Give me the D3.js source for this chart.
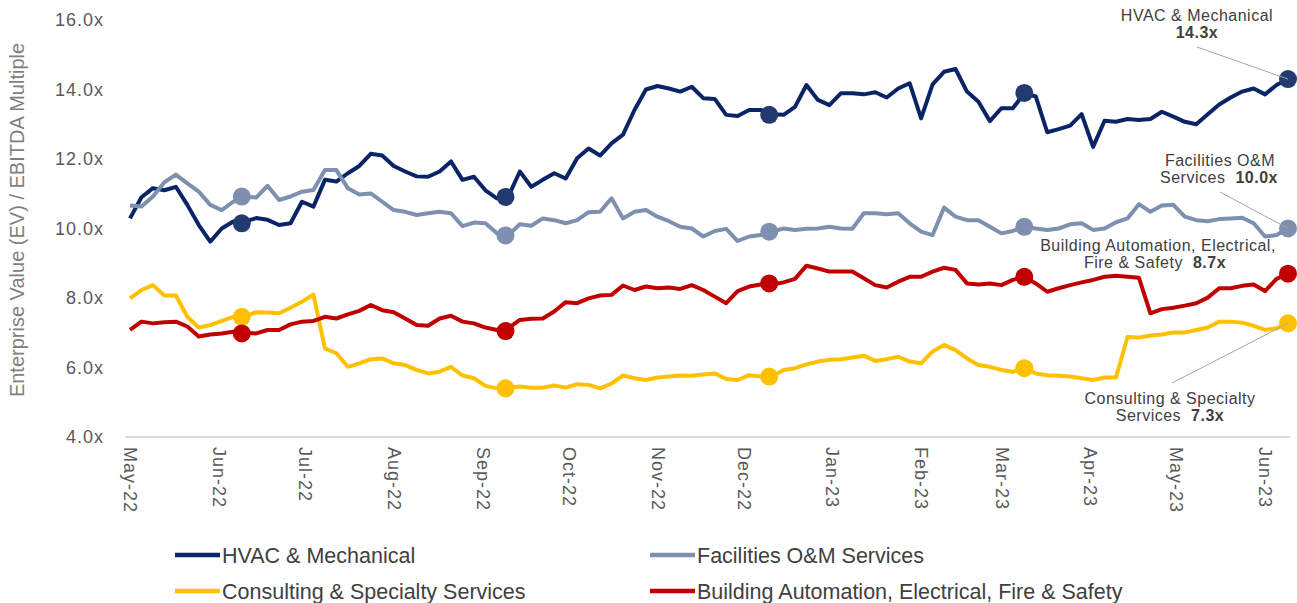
<!DOCTYPE html>
<html>
<head>
<meta charset="utf-8">
<script src="https://cdn.jsdelivr.net/npm/d3@7"></script>
<style>
  body { margin: 0; background: #fff; }
  svg { display: block; font-family: "Liberation Sans", Arial, sans-serif; }
</style>
</head>
<body>
<div id="chart"></div>
<script>
// series sampled every 4 days starting 1 May 2022 (last point 9 Jun 2023)
var START_DATE = new Date(2022, 4, 1);
var STEP_DAYS = 4;

var hvac = [10.29, 10.9, 11.16, 11.1, 11.2, 10.68, 10.1, 9.62, 10.0, 10.2,
  10.2, 10.3, 10.25, 10.1, 10.15, 10.77, 10.63, 11.4, 11.35, 11.59,
  11.8, 12.15, 12.1, 11.8, 11.64, 11.5, 11.49, 11.64, 11.93, 11.4,
  11.49, 11.1, 10.87, 10.92, 11.64, 11.2, 11.4, 11.59, 11.44, 12.02,
  12.3, 12.1, 12.45, 12.7, 13.41, 14.0, 14.1, 14.03, 13.94, 14.08,
  13.75, 13.73, 13.27, 13.24, 13.41, 13.41, 13.29, 13.27, 13.5, 14.13,
  13.7, 13.55, 13.89, 13.89, 13.86, 13.92, 13.77, 14.03, 14.18, 13.17,
  14.15, 14.51, 14.59, 13.94, 13.65, 13.09, 13.46, 13.46, 13.89, 13.8,
  12.77, 12.86, 12.96, 13.29, 12.35, 13.1, 13.07, 13.15, 13.12, 13.15,
  13.36, 13.22, 13.07, 13.0, 13.29, 13.57, 13.77, 13.94, 14.03, 13.86,
  14.13, 14.3];

var facilities = [10.66, 10.63, 10.92, 11.33, 11.55, 11.3, 11.06, 10.68, 10.53, 10.77,
  10.92, 10.89, 11.23, 10.82, 10.92, 11.06, 11.11, 11.68, 11.68, 11.16,
  10.98, 11.01, 10.77, 10.53, 10.48, 10.39, 10.44, 10.48, 10.44, 10.07,
  10.17, 10.15, 9.86, 9.81, 10.12, 10.08, 10.29, 10.24, 10.15, 10.24,
  10.47, 10.48, 10.87, 10.29, 10.48, 10.53, 10.34, 10.21, 10.05, 10.0,
  9.77, 9.93, 9.99, 9.64, 9.77, 9.81, 9.91, 10.0, 9.96, 9.99,
  10.0, 10.05, 10.0, 9.99, 10.44, 10.44, 10.41, 10.44, 10.15, 9.91,
  9.81, 10.6, 10.34, 10.24, 10.24, 10.05, 9.86, 9.93, 10.05, 10.0,
  9.96, 10.0, 10.12, 10.15, 9.96, 10.0, 10.18, 10.29, 10.7, 10.48,
  10.66, 10.68, 10.34, 10.24, 10.21, 10.27, 10.29, 10.31, 10.15, 9.77,
  9.81, 10.0];

var consulting = [7.99, 8.23, 8.37, 8.07, 8.07, 7.46, 7.15, 7.22, 7.34, 7.46,
  7.48, 7.59, 7.58, 7.56, 7.72, 7.89, 8.1, 6.55, 6.41, 6.02,
  6.12, 6.24, 6.26, 6.12, 6.07, 5.93, 5.83, 5.88, 6.02, 5.77,
  5.69, 5.47, 5.4, 5.42, 5.45, 5.42, 5.42, 5.48, 5.42, 5.52,
  5.5, 5.4, 5.54, 5.77, 5.69, 5.64, 5.71, 5.74, 5.77, 5.76,
  5.8, 5.83, 5.67, 5.64, 5.78, 5.74, 5.74, 5.93, 5.98, 6.09,
  6.17, 6.22, 6.24, 6.29, 6.34, 6.19, 6.24, 6.31, 6.17, 6.12,
  6.46, 6.65, 6.5, 6.26, 6.07, 6.02, 5.93, 5.88, 5.98, 5.83,
  5.78, 5.76, 5.74, 5.69, 5.64, 5.71, 5.71, 6.88, 6.86, 6.92,
  6.95, 7.01, 7.01, 7.08, 7.15, 7.32, 7.32, 7.29, 7.2, 7.08,
  7.13, 7.27];

var building = [7.08, 7.32, 7.27, 7.3, 7.32, 7.18, 6.89, 6.95, 6.98, 7.03,
  7.01, 6.98, 7.08, 7.08, 7.24, 7.32, 7.34, 7.46, 7.41, 7.53,
  7.63, 7.8, 7.65, 7.59, 7.41, 7.22, 7.2, 7.41, 7.49, 7.32,
  7.27, 7.15, 7.08, 7.13, 7.37, 7.4, 7.41, 7.61, 7.88, 7.85,
  7.99, 8.07, 8.09, 8.36, 8.23, 8.33, 8.28, 8.3, 8.26, 8.37,
  8.23, 8.04, 7.85, 8.2, 8.33, 8.39, 8.39, 8.45, 8.55, 8.93,
  8.85, 8.76, 8.76, 8.76, 8.57, 8.37, 8.3, 8.47, 8.61, 8.61,
  8.76, 8.87, 8.81, 8.42, 8.39, 8.42, 8.37, 8.52, 8.61, 8.42,
  8.18, 8.28, 8.37, 8.45, 8.52, 8.61, 8.64, 8.61, 8.58, 7.56,
  7.68, 7.72, 7.78, 7.85, 8.01, 8.28, 8.28, 8.35, 8.39, 8.2,
  8.55, 8.7];

// quarterly snapshot points (dots)
var markerDates = ["2022-06-09", "2022-09-09", "2022-12-10", "2023-03-09", "2023-06-09"];
var hvacMarks = [10.15, 10.91, 13.27, 13.9, 14.3];
var facilitiesMarks = [10.92, 9.8, 9.91, 10.05, 10.0];
var consultingMarks = [7.46, 5.4, 5.74, 5.98, 7.27];
var buildingMarks = [6.98, 7.05, 8.42, 8.61, 8.7];

var seriesNames = ["HVAC & Mechanical", "Facilities O&M Services",
  "Consulting & Specialty Services", "Building Automation, Electrical, Fire & Safety"];
var yTicks = [4, 6, 8, 10, 12, 14, 16];

//COLOURS
var COL_HVAC = "#0b2465";
var COL_HVAC_DOT = "#213b70";
var COL_FAC = "#7f8fb0";
var COL_CONS = "#ffc000";
var COL_BLDG = "#c00000";
var TEXT_COL = "#595959";

var W = 1297, H = 603;

var svg = d3.select("#chart").append("svg")
  .attr("width", W).attr("height", H);
svg.append("rect").attr("width", W).attr("height", H).attr("fill", "#fff");

var endDate = d3.timeDay.offset(START_DATE, (hvac.length - 1) * STEP_DAYS);
var x = d3.scaleTime().domain([START_DATE, endDate]).range([130, 1288]);
var y = d3.scaleLinear().domain([4, 16]).range([437, 20]);

function toPoints(vals) {
  return vals.map(function(v, i) { return { date: d3.timeDay.offset(START_DATE, i * STEP_DAYS), value: v }; });
}
var parseDate = d3.timeParse("%Y-%m-%d");
function toMarks(vals) {
  return vals.map(function(v, i) { return { date: parseDate(markerDates[i]), value: v }; });
}

var series = [
  { name: seriesNames[0], data: toPoints(hvac), marks: toMarks(hvacMarks), line: COL_HVAC, dot: COL_HVAC_DOT },
  { name: seriesNames[1], data: toPoints(facilities), marks: toMarks(facilitiesMarks), line: COL_FAC, dot: COL_FAC },
  { name: seriesNames[2], data: toPoints(consulting), marks: toMarks(consultingMarks), line: COL_CONS, dot: COL_CONS },
  { name: seriesNames[3], data: toPoints(building), marks: toMarks(buildingMarks), line: COL_BLDG, dot: COL_BLDG }
];

// y axis (labels only)
var yAxis = svg.append("g")
  .attr("transform", "translate(104,0)")
  .call(d3.axisLeft(y).tickValues(yTicks).tickSize(0).tickPadding(0)
    .tickFormat(function(d) { return d.toFixed(1) + "x"; }));
yAxis.select(".domain").remove();
yAxis.selectAll("text")
  .attr("fill", TEXT_COL)
  .style("font-size", "18px")
  .style("letter-spacing", "1px")
  .style("font-family", "'Liberation Sans', Arial, sans-serif");

svg.append("text")
  .attr("transform", "translate(24,220) rotate(-90)")
  .attr("text-anchor", "middle")
  .attr("fill", "#7f7f7f")
  .style("font-size", "20px")
  .text("Enterprise Value (EV) / EBITDA Multiple");

// x axis
var monthTicks = d3.timeMonth.range(new Date(2022, 4, 1), new Date(2023, 5, 2));
var xAxis = svg.append("g")
  .attr("transform", "translate(0,437)")
  .call(d3.axisBottom(x).tickValues(monthTicks).tickSize(0).tickPadding(0)
    .tickFormat(d3.timeFormat("%b-%y")));
xAxis.select(".domain")
  .attr("d", "M125,0H1290")
  .attr("stroke", "#d9d9d9")
  .attr("stroke-width", 2);
xAxis.selectAll("text")
  .attr("fill", TEXT_COL)
  .attr("text-anchor", "start")
  .attr("dy", "0.35em")
  .attr("y", 0)
  .attr("transform", "translate(0,10) rotate(90)")
  .style("font-size", "18px")
  .style("letter-spacing", "1px")
  .style("font-family", "'Liberation Sans', Arial, sans-serif");

// lines
var line = d3.line()
  .x(function(d) { return x(d.date); })
  .y(function(d) { return y(d.value); });

var g = svg.append("g");
series.forEach(function(s) {
  g.append("path")
    .datum(s.data)
    .attr("fill", "none")
    .attr("stroke", s.line)
    .attr("stroke-width", 4)
    .attr("stroke-linejoin", "round")
    .attr("d", line);
});

// leader lines (behind dots)
var leaders = [
  { s: 0, x1: 1197, y1: 47 },
  { s: 1, x1: 1220, y1: 192 },
  { s: 2, x1: 1172, y1: 383 }
];
leaders.forEach(function(l) {
  var last = series[l.s].data[series[l.s].data.length - 1];
  svg.append("line")
    .attr("x1", l.x1).attr("y1", l.y1)
    .attr("x2", x(last.date)).attr("y2", y(last.value))
    .attr("stroke", "#a6a6a6").attr("stroke-width", 1);
});

series.forEach(function(s) {
  g.selectAll(null)
    .data(s.marks)
    .enter().append("circle")
    .attr("r", 9)
    .attr("cx", function(d) { return x(d.date); })
    .attr("cy", function(d) { return y(d.value); })
    .attr("fill", s.dot);
});

// end annotations
var ann = svg.append("g")
  .attr("fill", "#404040")
  .style("font-size", "16px")
  .style("letter-spacing", "0.5px")
  .attr("text-anchor", "middle");

function annot(cx, yy, txt, bold) {
  var t = ann.append("text").attr("x", cx).attr("y", yy);
  t.append("tspan").text(txt);
  if (bold) {
    t.append("tspan").attr("dx", 10).attr("font-weight", "bold").text(bold);
  }
  return t;
}
function lastVal(arr) { return arr[arr.length - 1].toFixed(1) + "x"; }

annot(1197, 21, "HVAC & Mechanical");
ann.append("text").attr("x", 1197).attr("y", 38).attr("font-weight", "bold").text(lastVal(hvac));
annot(1220, 166, "Facilities O&M");
annot(1219, 183, "Services", lastVal(facilities));
annot(1158, 251, "Building Automation, Electrical,");
annot(1155, 268, "Fire & Safety", lastVal(building));
annot(1170, 404, "Consulting & Specialty");
annot(1170, 421, "Services", lastVal(consulting));

// legend
var legendPos = [[175, 555], [650, 555], [175, 591], [650, 591]];
series.forEach(function(s, i) {
  var lg = svg.append("g").attr("transform", "translate(" + legendPos[i][0] + "," + legendPos[i][1] + ")");
  lg.append("line").attr("x1", 0).attr("x2", 45).attr("y1", 0).attr("y2", 0)
    .attr("stroke", s.line).attr("stroke-width", 4.5);
  lg.append("text").attr("x", 47).attr("dy", "0.35em")
    .attr("fill", "#404040")
    .style("font-size", "21.5px")
    .text(s.name);
});
</script>
</body>
</html>
